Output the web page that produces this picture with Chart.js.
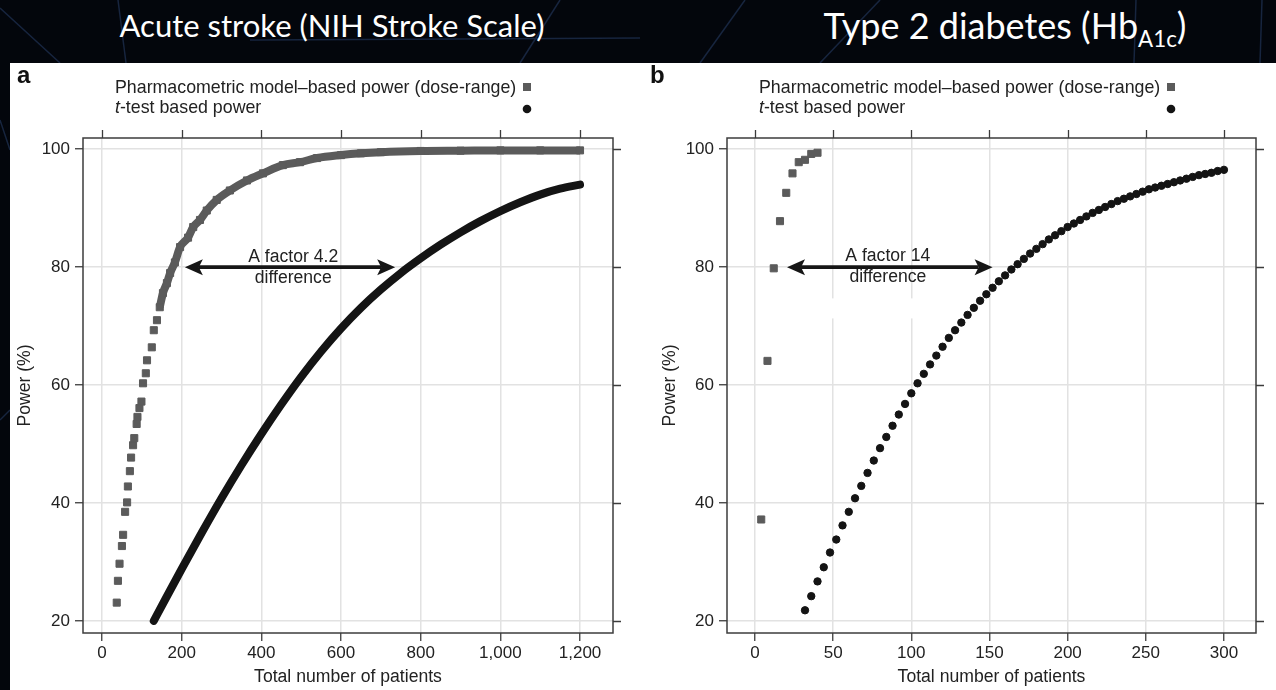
<!DOCTYPE html>
<html>
<head>
<meta charset="utf-8">
<title>Power vs number of patients</title>
<script src="https://cdn.jsdelivr.net/npm/chart.js@4.4.1/dist/chart.umd.min.js"></script>
<style>
  html, body { margin: 0; padding: 0; }
  body {
    width: 1276px; height: 690px; overflow: hidden; position: relative;
    background: #03060c;
    font-family: "Liberation Sans", Arial, sans-serif;
  }
  #deco { position: absolute; left: 0; top: 0; }
  .head {
    position: absolute; top: 8px; color: #fff; white-space: nowrap;
    font-family: Lato, "Open Sans", sans-serif; transform: translateX(-50%);
  }
  .head sub { font-size: 62%; vertical-align: -0.35em; line-height: 0; }
  #sheet { position: absolute; left: 10px; top: 63px; width: 1266px; height: 627px; background: #fff; }
  canvas { position: absolute; top: 63px; }
  #chartA { left: 10px; }
  #chartB { left: 640px; }
</style>
</head>
<body>
<svg id="deco" width="1276" height="690">
  <g stroke="#17253f" stroke-width="1.5" fill="none">
    <line x1="0" y1="8" x2="60" y2="63"/>
    <line x1="118" y1="0" x2="126" y2="63"/>
    <line x1="250" y1="40" x2="640" y2="38"/>
    <line x1="560" y1="0" x2="520" y2="63"/>
    <line x1="700" y1="63" x2="745" y2="0"/>
    <line x1="820" y1="63" x2="880" y2="0"/>
    <line x1="1136" y1="0" x2="1134" y2="63"/>
    <line x1="1262" y1="0" x2="1260" y2="63"/>
    <line x1="0" y1="120" x2="10" y2="150"/>
    <line x1="0" y1="420" x2="10" y2="410"/>
  </g>
</svg>
<div class="head" style="left:332px; top:6px; font-size:31px;">Acute stroke (NIH Stroke Scale)</div>
<div class="head" style="left:1005px; top:3px; font-size:36px;">Type 2 diabetes (Hb<sub>A1c</sub>)</div>
<div id="sheet"></div>
<canvas id="chartA" width="630" height="627"></canvas>
<canvas id="chartB" width="636" height="627"></canvas>
<script>
// ---- panel a: acute stroke ----
const xTicksA = [0, 200, 400, 600, 800, 1000, 1200];
const xLabelsA = ['0', '200', '400', '600', '800', '1,000', '1,200'];

// dose-range model power, separate points at the low end
const pharmaLowAx = [37, 40, 44, 50, 53, 58, 63, 65, 70, 73, 78, 81, 87, 89, 94, 99, 103, 110, 113, 125, 130, 138];
const pharmaLowAy = [23.1, 26.8, 29.7, 32.7, 34.6, 38.5, 40.1, 42.8, 45.4, 47.7, 49.8, 51, 53.4, 54.6, 56.1, 57.2, 60.3, 62, 64.2, 66.4, 69.3, 71];
// ...and the packed run of points from ~145 patients on
const pharmaBandAx = [145, 153, 163, 171, 183, 196, 216, 229, 246, 263, 288, 321, 364, 404, 454, 497, 540, 600, 650, 700, 800, 900, 1000, 1100, 1200];
const pharmaBandAy = [73.2, 75.6, 77.3, 79, 80.8, 83.4, 85, 86.8, 88, 89.6, 91.4, 93, 94.7, 95.9, 97.3, 97.8, 98.5, 99, 99.3, 99.5, 99.7, 99.75, 99.8, 99.8, 99.8];

// t-test power
const tTestAx = [130, 160, 200, 250, 300, 350, 400, 450, 500, 550, 600, 650, 700, 750, 800, 850, 900, 950, 1000, 1050, 1100, 1150, 1200];
const tTestAy = [20, 23.8, 28.8, 34.9, 40.8, 46.4, 51.7, 56.7, 61.4, 65.7, 69.6, 73.1, 76.2, 79.0, 81.5, 83.8, 85.9, 87.8, 89.5, 91.0, 92.3, 93.3, 94.0];

// ---- panel b: type 2 diabetes ----
const xTicksB = [0, 50, 100, 150, 200, 250, 300];
const xLabelsB = ['0', '50', '100', '150', '200', '250', '300'];

const pharmaBx = [4, 8, 12, 16, 20, 24, 28, 32, 36, 40];
const pharmaBy = [37.2, 64.1, 79.8, 87.8, 92.6, 95.9, 97.8, 98.2, 99.2, 99.4];

const tTestBx = [32, 36, 40, 44, 48, 52, 56, 60, 64, 68, 72, 76, 80, 84, 88, 92, 96, 100, 104,
  108, 112, 116, 120, 124, 128, 132, 136, 140, 144, 148, 152, 156, 160, 164, 168, 172, 176, 180,
  184, 188, 192, 196, 200, 204, 208, 212, 216, 220, 224, 228, 232, 236, 240, 244, 248, 252, 256,
  260, 264, 268, 272, 276, 280, 284, 288, 292, 296, 300];
const tTestBy = [21.8, 24.2, 26.7, 29.1, 31.6, 33.8, 36.2, 38.5, 40.8, 42.9, 45.1, 47.2, 49.3, 51.2, 53.1, 55.0, 56.8, 58.6, 60.3,
  61.9, 63.5, 65.0, 66.5, 68.0, 69.3, 70.6, 71.9, 73.1, 74.3, 75.4, 76.5, 77.6, 78.6, 79.6, 80.5, 81.4, 82.3, 83.1,
  83.9, 84.7, 85.4, 86.1, 86.8, 87.4, 88.0, 88.6, 89.2, 89.7, 90.2, 90.7, 91.2, 91.6, 92.0, 92.4, 92.8, 93.2, 93.5,
  93.8, 94.1, 94.4, 94.7, 95.0, 95.3, 95.6, 95.8, 96.0, 96.3, 96.5];

// shared y axis
const yTicks = [20, 40, 60, 80, 100];

const FONT = '"Liberation Sans", Arial, sans-serif';
const INK = '#222';
const GREY = '#5b5b5b';
const BLACK = '#141414';

const pts = (xs, ys) => xs.map((x, i) => ({ x, y: ys[i] }));

// box round the plot plus outward ticks on the top and right sides
const framePlugin = {
  id: 'frame',
  afterDatasetsDraw(chart) {
    const { ctx, chartArea: a, scales: { x, y } } = chart;
    ctx.save();
    ctx.strokeStyle = '#3c3c3c';
    ctx.lineWidth = 1.5;
    ctx.strokeRect(a.left, a.top, a.right - a.left, a.bottom - a.top);
    ctx.lineWidth = 1.3;
    ctx.beginPath();
    x.ticks.forEach(t => {
      const px = Math.round(x.getPixelForValue(t.value)) + 0.5;
      ctx.moveTo(px, a.top); ctx.lineTo(px, a.top - 8);
    });
    y.ticks.forEach(t => {
      const py = Math.round(y.getPixelForValue(t.value)) + 0.5;
      ctx.moveTo(a.right, py); ctx.lineTo(a.right + 8, py);
    });
    ctx.stroke();
    ctx.restore();
  }
};

// panel letter and the two-row key above the plot
const keyPlugin = {
  id: 'key',
  afterDraw(chart, args, o) {
    const { ctx, chartArea: a } = chart;
    ctx.save();
    ctx.fillStyle = '#111';
    ctx.font = 'bold 24px ' + FONT;
    ctx.textBaseline = 'middle';
    ctx.fillText(o.letter, o.letterX, 13);

    ctx.fillStyle = INK;
    ctx.font = '17.8px ' + FONT;
    const tx = a.left + 32;
    ctx.fillText('Pharmacometric model\u2013based power (dose-range)', tx, a.top - 50);
    ctx.font = 'italic 17.8px ' + FONT;
    ctx.fillText('t', tx, a.top - 30);
    const w = ctx.measureText('t').width;
    ctx.font = '17.8px ' + FONT;
    ctx.fillText('-test based power', tx + w, a.top - 30);

    const mx = a.left + 444;
    ctx.fillStyle = GREY;
    ctx.fillRect(mx - 4, a.top - 55, 8, 8);
    ctx.fillStyle = BLACK;
    ctx.beginPath();
    ctx.arc(mx, a.top - 29, 4.3, 0, Math.PI * 2);
    ctx.fill();
    ctx.restore();
  }
};

function arrowHead(ctx, x, y, dir) {
  ctx.beginPath();
  ctx.moveTo(x, y);
  ctx.lineTo(x - dir * 18, y - 8);
  ctx.lineTo(x - dir * 14, y);
  ctx.lineTo(x - dir * 18, y + 8);
  ctx.closePath();
  ctx.fill();
}

// double arrow with its two-line caption, placed in data units
const notePlugin = {
  id: 'note',
  beforeDatasetsDraw(chart, args, o) {
    if (!o.mask) return;
    const { ctx, scales: { x, y } } = chart;
    const m = o.mask;
    ctx.save();
    ctx.fillStyle = '#fff';
    const x0 = x.getPixelForValue(m.x0), x1 = x.getPixelForValue(m.x1);
    const y0 = y.getPixelForValue(m.y0), y1 = y.getPixelForValue(m.y1);
    ctx.fillRect(x0, y0, x1 - x0, y1 - y0);
    ctx.restore();
  },
  afterDatasetsDraw(chart, args, o) {
    const { ctx, scales: { x, y } } = chart;
    const xa = x.getPixelForValue(o.from), xb = x.getPixelForValue(o.to);
    const ya = y.getPixelForValue(o.at);
    ctx.save();
    ctx.strokeStyle = '#161616';
    ctx.fillStyle = '#161616';
    ctx.lineWidth = 3.6;
    ctx.beginPath();
    ctx.moveTo(xa + 14, ya);
    ctx.lineTo(xb - 14, ya);
    ctx.stroke();
    arrowHead(ctx, xa, ya, -1);
    arrowHead(ctx, xb, ya, 1);

    ctx.fillStyle = INK;
    ctx.font = '17.6px ' + FONT;
    ctx.textAlign = 'center';
    ctx.textBaseline = 'middle';
    const cx = x.getPixelForValue(o.textX);
    ctx.fillText(o.lines[0], cx, y.getPixelForValue(o.lineY[0]));
    ctx.fillText(o.lines[1], cx, y.getPixelForValue(o.lineY[1]));
    ctx.restore();
  }
};

function makePanel(id, cfg) {
  return new Chart(document.getElementById(id), {
    type: 'scatter',
    data: { datasets: cfg.datasets },
    options: {
      responsive: false,
      animation: false,
      events: [],
      layout: { padding: { top: 75, right: cfg.padRight, left: 0, bottom: 0 } },
      plugins: {
        legend: { display: false },
        tooltip: { enabled: false },
        key: cfg.key,
        note: cfg.note
      },
      scales: {
        x: {
          type: 'linear',
          min: cfg.xMin, max: cfg.xMax,
          afterBuildTicks: s => { s.ticks = cfg.xTicks.map(v => ({ value: v })); },
          afterFit: s => { s.height = 57; },
          ticks: {
            color: INK, font: { family: FONT, size: 17 }, padding: 2, maxRotation: 0,
            callback: v => cfg.xLabels[cfg.xTicks.indexOf(v)]
          },
          grid: { color: '#e2e2e2', lineWidth: 1.5, tickColor: '#3c3c3c', tickLength: 8, tickWidth: 1.3 },
          border: { display: false },
          title: {
            display: true, text: 'Total number of patients', color: INK,
            font: { family: FONT, size: 17.6 }, padding: { top: 0, bottom: 2 }
          }
        },
        y: {
          type: 'linear',
          min: 17.95, max: 101.9,
          afterBuildTicks: s => { s.ticks = yTicks.map(v => ({ value: v })); },
          afterFit: s => { s.width = cfg.yWidth; },
          ticks: { color: INK, font: { family: FONT, size: 17 }, padding: 5 },
          grid: { color: '#e2e2e2', lineWidth: 1.5, tickColor: '#3c3c3c', tickLength: 8, tickWidth: 1.3 },
          border: { display: false },
          title: {
            display: true, text: 'Power (%)', color: INK,
            font: { family: FONT, size: 17.6 }, padding: { top: cfg.yTitlePad, bottom: 0 }
          }
        }
      }
    },
    plugins: [framePlugin, keyPlugin, notePlugin]
  });
}

const squares = {
  pointStyle: 'rect', pointRadius: 5, pointBorderWidth: 1,
  backgroundColor: GREY, borderColor: GREY
};

makePanel('chartA', {
  xMin: -47.7, xMax: 1282.8, xTicks: xTicksA, xLabels: xLabelsA,
  yWidth: 73, padRight: 27, yTitlePad: 5,
  key: { letter: 'a', letterX: 7 },
  note: { from: 208, to: 736, at: 80, textX: 480, lineY: [81.7, 78.1], lines: ['A factor 4.2', 'difference'] },
  datasets: [
    { ...squares, data: pts(pharmaLowAx, pharmaLowAy), showLine: false },
    { ...squares, data: pts(pharmaBandAx, pharmaBandAy), showLine: true, borderWidth: 8,
      borderJoinStyle: 'miter', cubicInterpolationMode: 'monotone' },
    { data: pts(tTestAx, tTestAy), showLine: true, borderColor: BLACK, backgroundColor: BLACK,
      borderWidth: 8, borderCapStyle: 'round', pointRadius: 0, cubicInterpolationMode: 'monotone' }
  ]
});

makePanel('chartB', {
  xMin: -17.9, xMax: 320.5, xTicks: xTicksB, xLabels: xLabelsB,
  yWidth: 87, padRight: 20, yTitlePad: 20,
  key: { letter: 'b', letterX: 10 },
  note: {
    from: 20.5, to: 152, at: 80, textX: 85, lineY: [81.9, 78.3], lines: ['A factor 14', 'difference'],
    mask: { x0: 30, x1: 125, y0: 74.7, y1: 71.3 }
  },
  datasets: [
    { ...squares, data: pts(pharmaBx, pharmaBy), showLine: false },
    { data: pts(tTestBx, tTestBy), showLine: false, pointStyle: 'circle', pointRadius: 3.7,
      pointBorderWidth: 1, backgroundColor: BLACK, borderColor: BLACK }
  ]
});
</script>
</body>
</html>
